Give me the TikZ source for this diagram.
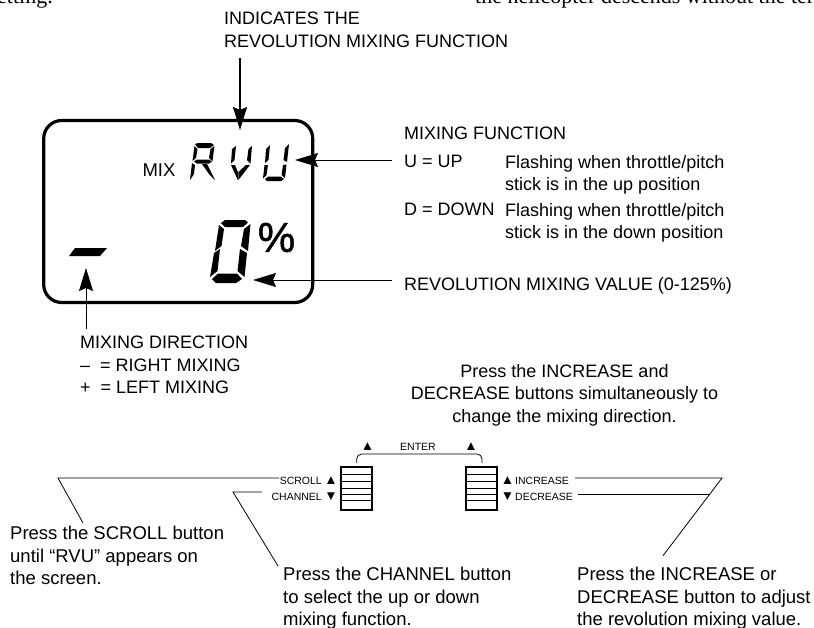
\documentclass[tikz,border=0pt]{standalone}
\usepackage{fontspec}
\setmainfont{Liberation Sans}
\newfontfamily\bookfont{Liberation Serif}
\newfontfamily\pctfont[FakeBold=1.2]{Liberation Sans}
\usetikzlibrary{arrows.meta, positioning}

\begin{document}
\begin{tikzpicture}[x=1pt, y=-1pt,
  note/.style={inner sep=0pt, align=left, anchor=north west, font=\fontsize{18}{22.4}\selectfont},
  press/.style={inner sep=0pt, align=left, anchor=north west, font=\fontsize{18.5}{22.5}\selectfont},
  small/.style={inner sep=0pt, font=\fontsize{10.5}{12}\selectfont},
  tri/.style={inner sep=0pt, anchor=base, font=\fontsize{13.5}{14}\selectfont},
  book/.style={inner sep=0pt, font=\bookfont\fontsize{22}{24}\selectfont},
  arr/.style={-{Stealth[length=23pt, width=14pt, inset=3pt]}, line width=0.9pt},
  lead/.style={line width=0.8pt},
  seg/.style={fill=black, draw=none},
  btn/.style={rectangle, draw=black, line width=2pt, minimum width=31pt, minimum height=43pt, inner sep=0pt}
]
\useasboundingbox (0,0) rectangle (814,627);

% Page text around the figure
\node[book, anchor=base east] (pagel) at (53,3) {setting.};
\node[book, anchor=base west] (pager) at (475,3) {the helicopter descends without the ter};

% Screen
\node[rectangle, draw=black, line width=3.2pt, rounded corners=18pt, minimum width=269pt, minimum height=182pt, inner sep=0pt] (lcd) at (178.2,211.5) {};
\node[inner sep=0pt, font=\fontsize{18.5}{20}\selectfont] (mix) at (159,170.5) {MIX};

% R
\fill[seg] (195,144) -- (198,143) -- (211,143) -- (214,145) -- (210,148) -- (198,148) -- cycle;
\fill[seg] (194.5,146) -- (197.5,149) -- (196,158) -- (192.5,161) -- cycle;
\fill[seg] (214.5,146) -- (212.5,161) -- (209,158) -- (210.5,149) -- cycle;
\fill[seg] (194,161.5) -- (197,159.5) -- (209,159.5) -- (212,161.5) -- (209,163.5) -- (197,163.5) -- cycle;
\fill[seg] (192,163) -- (195,165) -- (194,174) -- (190,180) -- cycle;
\fill[seg] (202,164) -- (207,164) -- (215,180) -- (209,174) -- cycle;
% V
\fill[seg] (232,149) -- (236,146) -- (234.5,160) -- (231,163.5) -- cycle;
\fill[seg] (252,146) -- (250.5,163.5) -- (247,160) -- (248.5,149) -- cycle;
\fill[seg] (231,165) -- (235,165) -- (237.8,172) -- (237.8,180) -- cycle;
\fill[seg] (250,165) -- (246,165) -- (238.4,172) -- (238.4,180) -- cycle;
% U
\fill[seg] (266,149) -- (270,145) -- (268.5,160) -- (265,163) -- cycle;
\fill[seg] (289,144) -- (287,162) -- (283.5,160) -- (285,148) -- cycle;
\fill[seg] (264.5,165) -- (268,165) -- (266.5,175) -- (263,178.5) -- cycle;
\fill[seg] (286.5,164.5) -- (285,178) -- (281.5,175) -- (283,165) -- cycle;
\fill[seg] (265,179) -- (268.5,176.5) -- (281,176.5) -- (284,179) -- (281,181) -- (267,181) -- cycle;
% 0
\fill[seg] (221,223) -- (225,220) -- (245,220) -- (248,222.5) -- (243,227) -- (225,227) -- cycle;
\fill[seg] (219,225) -- (224,229) -- (221.5,246) -- (215,251) -- cycle;
\fill[seg] (250.5,224) -- (248,251) -- (241,246) -- (244,229) -- cycle;
\fill[seg] (214,253) -- (220,249) -- (217.5,271) -- (210,277) -- cycle;
\fill[seg] (247,253) -- (244.5,277) -- (237.5,271) -- (240,249) -- cycle;
\fill[seg] (212,279) -- (218,273.5) -- (237,273.5) -- (242,279) -- (236,283) -- (216,283) -- cycle;
\node[inner sep=0pt, font=\pctfont\fontsize{42}{42}\selectfont] (pct) at (276.5,237.5) {\%};
% Minus sign
\fill[seg] (75,248) -- (107,248) -- (100,256) -- (69,256) -- cycle;

% Screen callouts
\node[note] (ind) at (224,12) {INDICATES THE\\REVOLUTION MIXING FUNCTION};
\node[note] (fun) at (404,127) {MIXING FUNCTION};
\node[note] (upk) at (404,155) {U = UP};
\node[note] (upv) at (505,155) {Flashing when throttle/pitch\\stick is in the up position};
\node[note] (dnk) at (404,203) {D = DOWN};
\node[note] (dnv) at (505,203) {Flashing when throttle/pitch\\stick is in the down position};
\node[note] (val) at (404,277) {REVOLUTION MIXING VALUE (0-125\%)};
\node[note] (dir) at (80,336) {MIXING DIRECTION\\–\ \ = RIGHT MIXING\\+\ \ = LEFT MIXING};

\coordinate (indfrom) at (240,58);
\coordinate (indend) at (240,130);
\coordinate (rvufrom) at (392,160);
\coordinate (rvuend) at (295,160);
\coordinate (valfrom) at (392,280);
\coordinate (valend) at (253,280);
\coordinate (dirfrom) at (86,329);
\coordinate (dirend) at (86,268);
\draw[arr, line width=1.5pt] (indfrom) -- (indend);
\draw[arr] (rvufrom) -- (rvuend);
\draw[arr] (valfrom) -- (valend);
\draw[arr] (dirfrom) -- (dirend);

% Buttons
\node[note, align=center, anchor=north] (both) at (564.5,364) {Press the INCREASE and\\DECREASE buttons simultaneously to\\change the mixing direction.};
\node[btn] (bl) at (356,488) {};
\node[btn] (br) at (481.7,488) {};
\foreach \yy in {474.7,481.3,488,494.3,500.7} {
  \draw[lead] (bl.west |- 0,\yy) -- (bl.east |- 0,\yy);
  \draw[lead] (br.west |- 0,\yy) -- (br.east |- 0,\yy);
}
\node[small, anchor=base] (ent) at (418,450) {ENTER};
\node[tri] (ul) at (367.5,450) {▲};
\node[tri] (ur) at (471,450) {▲};
\coordinate (bla) at (356.7,463);
\coordinate (bra) at (482,463);
\draw[lead, rounded corners=5pt] (bla) |- (419,454) -| (bra);
\node[small, anchor=base east] (scr) at (322,484.3) {SCROLL};
\node[small, anchor=base east] (cha) at (322,500) {CHANNEL};
\node[tri] (scrt) at (331,484.3) {▲};
\node[tri] (chat) at (331,500) {▼};
\node[tri] (inct) at (507.5,484.3) {▲};
\node[tri] (dect) at (507.5,500) {▼};
\node[small, anchor=base west] (inc) at (515,484.3) {INCREASE};
\node[small, anchor=base west] (dec) at (515,500) {DECREASE};

% Leaders
\coordinate (sz) at (279,478);
\coordinate (sa) at (58,478);
\coordinate (sb) at (83,523);
\coordinate (cz) at (262,492);
\coordinate (ca) at (233,492);
\coordinate (cb) at (278,566);
\coordinate (iz) at (575,478);
\coordinate (ia) at (722,478);
\coordinate (ic) at (663,555.7);
\coordinate (dz) at (578,494.3);
\coordinate (ib) at (709.5,494.3);
\draw[lead] (sz) -- (sa) -- (sb);
\draw[lead] (cz) -- (ca) -- (cb);
\draw[lead] (iz) -- (ia) -- (ic);
\draw[lead] (dz) -- (ib);

\node[press] (pscr) at (10,526) {Press the SCROLL button\\until “RVU” appears on\\the screen.};
\node[press] (pcha) at (283,567) {Press the CHANNEL button\\to select the up or down\\mixing function.};
\node[press] (pinc) at (577,567) {Press the INCREASE or\\DECREASE button to adjust\\the revolution mixing value.};
\end{tikzpicture}
\end{document}
